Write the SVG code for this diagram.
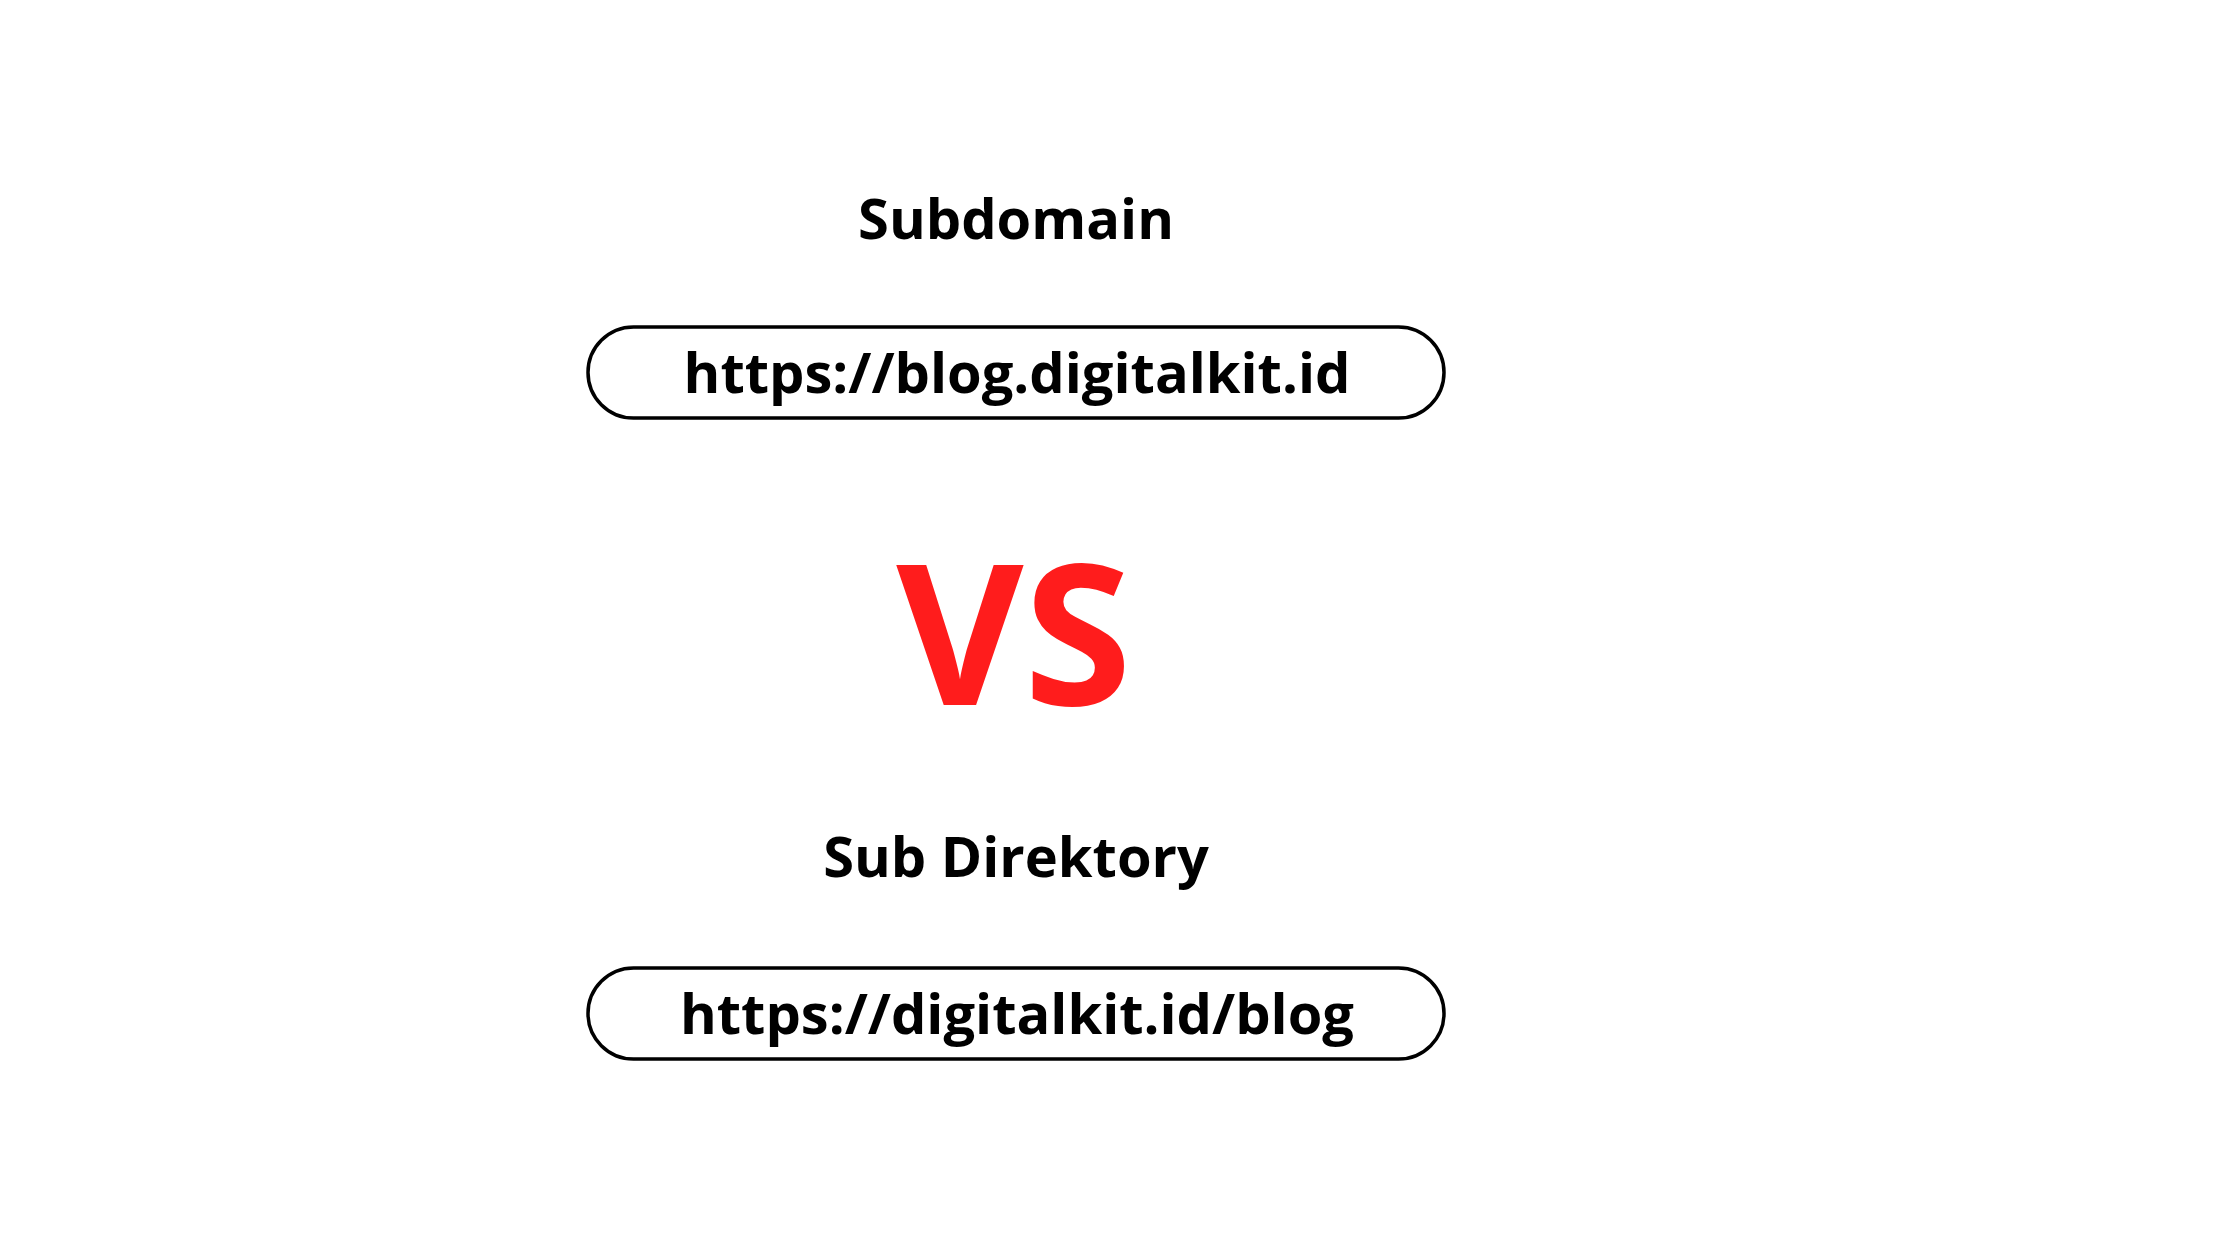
<svg xmlns="http://www.w3.org/2000/svg" width="2240" height="1260" viewBox="0 0 2240 1260">
<style>
.t{font-family:"Open Sans","Noto Sans","Liberation Sans",sans-serif;font-weight:700;text-anchor:middle;fill:#000}
.box{fill:#fff;stroke:#000;stroke-width:3.5}
.vs{font-family:"Open Sans","Noto Sans","Liberation Sans",sans-serif;font-weight:700;text-anchor:middle;fill:#ff1c1c}
</style>
<rect width="2240" height="1260" fill="#fff"/>
<g id="subdomain-title"><text class="t" x="1016" y="239" font-size="56">Subdomain</text></g>
<g id="subdomain-url"><rect class="box" x="588" y="327" width="856" height="91" rx="45.5"/><text class="t" x="1017" y="393" font-size="56">https://blog.digitalkit.id</text></g>
<g id="vs"><text class="vs" x="1014" y="705" font-size="196">VS</text></g>
<g id="subdir-title"><text class="t" x="1016" y="877" font-size="56">Sub Direktory</text></g>
<g id="subdir-url"><rect class="box" x="588" y="968" width="856" height="91" rx="45.5"/><text class="t" x="1017" y="1034" font-size="56">https://digitalkit.id/blog</text></g>
<g id="connectors"/>
</svg>
